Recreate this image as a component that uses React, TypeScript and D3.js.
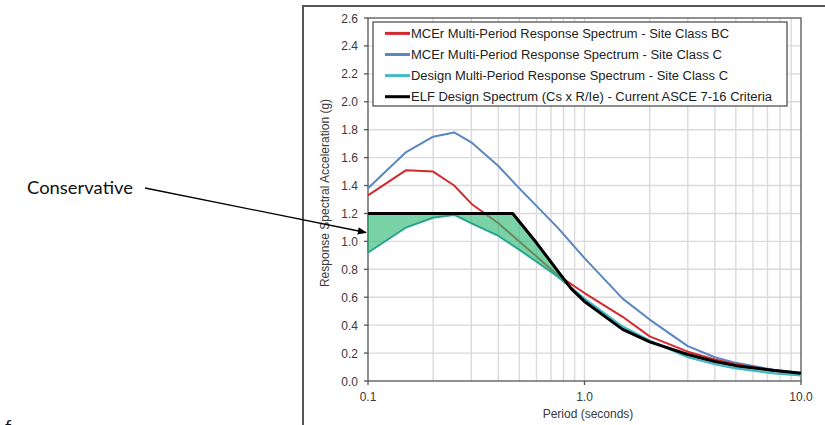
import React, { useEffect, useRef } from "react";
import * as d3 from "d3";

// periods used by the multi-period spectra (seconds)
const periods = [0.1, 0.15, 0.2, 0.25, 0.3, 0.4, 0.5, 0.75, 1, 1.5, 2, 3, 4, 5, 7.5, 10];
const mcerBC = [1.33, 1.51, 1.5, 1.4, 1.27, 1.13, 1.0, 0.76, 0.63, 0.46, 0.32, 0.21, 0.155, 0.12, 0.075, 0.055];
const mcerC = [1.38, 1.64, 1.75, 1.78, 1.71, 1.54, 1.38, 1.1, 0.88, 0.59, 0.44, 0.25, 0.17, 0.13, 0.08, 0.06];
const designC = [0.92, 1.1, 1.17, 1.19, 1.13, 1.04, 0.94, 0.75, 0.59, 0.39, 0.29, 0.17, 0.12, 0.09, 0.055, 0.04];

// ELF design spectrum
const elfPeriods = [0.1, 0.466, 0.6, 0.75, 0.87, 1, 1.5, 2, 3, 4, 5, 7.5, 10];
const elfValues = [1.2, 1.2, 0.99, 0.79, 0.66, 0.57, 0.37, 0.28, 0.19, 0.14, 0.11, 0.075, 0.056];

// shaded "conservative" region ends where ELF meets the design curve
const fillEnd = 0.87;

const legendLabels = [
  "MCEr Multi-Period Response Spectrum - Site Class BC",
  "MCEr Multi-Period Response Spectrum - Site Class C",
  "Design Multi-Period Response Spectrum - Site Class C",
  "ELF Design Spectrum (Cs x R/Ie) - Current ASCE 7-16 Criteria",
];
const legendColors = ["#d42a2e", "#5a86c2", "#45b8c6", "#000000"];
const legendWidths = [318, 311, 317, 361];

const yTicks = [0, 0.2, 0.4, 0.6, 0.8, 1.0, 1.2, 1.4, 1.6, 1.8, 2.0, 2.2, 2.4, 2.6];
const xMajor = [0.1, 1, 10];
const xTickLabels = ["0.1", "1.0", "10.0"];
const xMinor = [0.2, 0.3, 0.4, 0.5, 0.6, 0.7, 0.8, 0.9, 2, 3, 4, 5, 6, 7, 8, 9];

const App = () => {
  const width = 825;
  const height = 425;
  const svgRef = useRef(null);

  useEffect(() => {
    const svg = d3.select(svgRef.current);
    svg.selectAll("*").remove();

    const x = d3.scaleLog().domain([0.1, 10]).range([368, 801]);
    const y = d3.scaleLinear().domain([0, 2.6]).range([381, 18]);
    const textCol = "#3a3a3a";
    const font = "'Liberation Sans', Arial, sans-serif";

    const defs = svg.append("defs");
    defs.append("marker")
      .attr("id", "arrow")
      .attr("viewBox", "0 0 10 10")
      .attr("refX", 9)
      .attr("refY", 5)
      .attr("markerWidth", 7)
      .attr("markerHeight", 7)
      .attr("orient", "auto")
      .append("path")
      .attr("d", "M0,1 L10,5 L0,9 z")
      .attr("fill", "#000");

    // outer frame of the embedded picture
    svg.append("path")
      .attr("d", "M303,425 L303,6 L825,6")
      .attr("fill", "none")
      .attr("stroke", "#555")
      .attr("stroke-width", 2);

    // grid
    const grid = svg.append("g").attr("stroke", "#dadada").attr("stroke-width", 1.4);
    grid.selectAll(".gy")
      .data(yTicks.filter(d => d > 0 && d < 2.6))
      .join("line")
      .attr("x1", x(0.1)).attr("x2", x(10))
      .attr("y1", d => y(d)).attr("y2", d => y(d));
    grid.selectAll(".gx")
      .data(xMinor.concat([1]))
      .join("line")
      .attr("x1", d => x(d)).attr("x2", d => x(d))
      .attr("y1", y(0)).attr("y2", y(2.6));

    // plot frame
    svg.append("rect")
      .attr("x", x(0.1)).attr("y", y(2.6))
      .attr("width", x(10) - x(0.1)).attr("height", y(0) - y(2.6))
      .attr("fill", "none")
      .attr("stroke", "#555")
      .attr("stroke-width", 1.3);

    // axes ticks
    svg.append("g").selectAll("line")
      .data(yTicks)
      .join("line")
      .attr("x1", x(0.1) - 4).attr("x2", x(0.1))
      .attr("y1", d => y(d)).attr("y2", d => y(d))
      .attr("stroke", "#555").attr("stroke-width", 1.3);
    svg.append("g").selectAll("line")
      .data(xMajor)
      .join("line")
      .attr("x1", d => x(d)).attr("x2", d => x(d))
      .attr("y1", y(0)).attr("y2", y(0) + 4)
      .attr("stroke", "#555").attr("stroke-width", 1.3);

    svg.append("g").selectAll("text")
      .data(yTicks)
      .join("text")
      .attr("x", 358).attr("y", d => y(d) + 4.5)
      .attr("text-anchor", "end")
      .attr("font-family", font).attr("font-size", 12).attr("fill", textCol)
      .text(d => d.toFixed(1));
    svg.append("g").selectAll("text")
      .data(xMajor)
      .join("text")
      .attr("x", d => x(d)).attr("y", 401)
      .attr("text-anchor", "middle")
      .attr("font-family", font).attr("font-size", 12).attr("fill", textCol)
      .text((d, i) => xTickLabels[i]);

    svg.append("text")
      .attr("x", 588).attr("y", 418)
      .attr("text-anchor", "middle")
      .attr("font-family", font).attr("font-size", 12).attr("fill", textCol)
      .text("Period (seconds)");
    svg.append("text")
      .attr("transform", "translate(329,193) rotate(-90)")
      .attr("text-anchor", "middle")
      .attr("font-family", font).attr("font-size", 12).attr("fill", textCol)
      .text("Response Spectral Acceleration (g)");

    // series
    const line = d3.line()
      .x(d => x(d[0]))
      .y(d => y(d[1]));
    const zip = (ts, vs) => ts.map((t, i) => [t, vs[i]]);

    const drawSeries = (pts, color, w) => {
      svg.append("path")
        .attr("d", line(pts))
        .attr("fill", "none")
        .attr("stroke", color)
        .attr("stroke-width", w)
        .attr("stroke-linejoin", "round");
    };

    drawSeries(zip(periods, mcerC), legendColors[1], 2);
    drawSeries(zip(periods, mcerBC), legendColors[0], 2);
    drawSeries(zip(periods, designC), legendColors[2], 2.2);

    // conservative region between ELF and design spectrum
    const top = zip(elfPeriods, elfValues).filter(d => d[0] <= fillEnd);
    const bottom = zip(periods, designC).filter(d => d[0] <= fillEnd).reverse();
    svg.append("path")
      .attr("d", line(top.concat(bottom)) + "Z")
      .attr("fill", "#34bc78")
      .attr("fill-opacity", 0.66)
      .attr("stroke", "#1f7a50")
      .attr("stroke-width", 0.6);

    drawSeries(zip(elfPeriods, elfValues), legendColors[3], 3);

    // legend
    const lg = svg.append("g");
    lg.append("rect")
      .attr("x", 373).attr("y", 22)
      .attr("width", 414).attr("height", 84)
      .attr("fill", "#fff")
      .attr("stroke", "#444").attr("stroke-width", 1.2);
    const rows = lg.selectAll("g")
      .data(legendLabels)
      .join("g")
      .attr("transform", (d, i) => `translate(0,${33.4 + i * 21.1})`);
    rows.append("line")
      .attr("x1", 385).attr("x2", 410)
      .attr("stroke", (d, i) => legendColors[i])
      .attr("stroke-width", 3);
    rows.append("text")
      .attr("x", 411).attr("y", 4.3)
      .attr("font-family", font).attr("font-size", 12).attr("fill", "#222")
      .attr("textLength", (d, i) => legendWidths[i])
      .attr("lengthAdjust", "spacingAndGlyphs")
      .text(d => d);

    // annotation
    svg.append("text")
      .attr("x", 27).attr("y", 194)
      .attr("font-family", "Lato, 'Open Sans', sans-serif")
      .attr("font-size", 17)
      .attr("fill", "#111")
      .attr("textLength", 106)
      .attr("lengthAdjust", "spacingAndGlyphs")
      .text("Conservative");
    svg.append("line")
      .attr("x1", 145).attr("y1", 188)
      .attr("x2", 366).attr("y2", 232.5)
      .attr("stroke", "#000")
      .attr("stroke-width", 1.3)
      .attr("marker-end", "url(#arrow)");

    // top of a letter cut by the lower edge
    svg.append("text")
      .attr("x", 5).attr("y", 433)
      .attr("font-family", "Lato, 'Open Sans', sans-serif")
      .attr("font-size", 18)
      .attr("fill", "#111")
      .text("f");
  }, []);

  return (
    <svg
      ref={svgRef}
      width={width}
      height={height}
      viewBox={`0 0 ${width} ${height}`}
      style={{ position: "absolute", left: 0, top: 0, background: "#fff", display: "block" }}
    ></svg>
  );
};

export default App;
